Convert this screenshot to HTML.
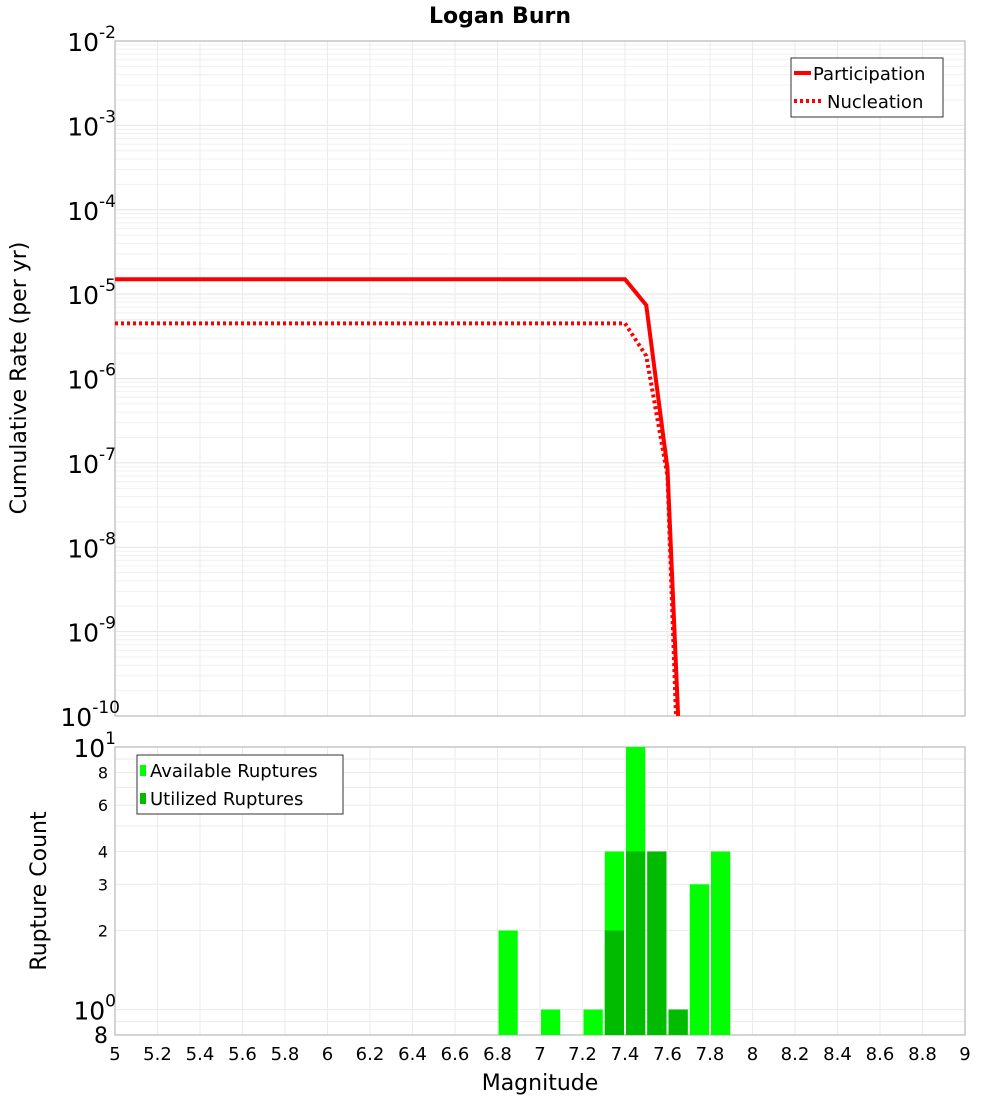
<!DOCTYPE html>
<html><head><meta charset="utf-8"><style>
body{margin:0;background:#fff;}
svg{font-family:"DejaVu Sans","Liberation Sans",sans-serif;display:block;}
</style></head><body>
<svg id="c" width="1000" height="1100" xmlns="http://www.w3.org/2000/svg">
<text x="500" y="23" text-anchor="middle" font-size="22" font-weight="bold">Logan Burn</text>
<g id="g"></g>
</svg>
<script>
const partMag=[5,7.4,7.5,7.6,7.65];
const partRate=[1.5e-5,1.5e-5,7.4e-6,8.5e-8,1e-10];
const nuclMag=[5,7.4,7.5,7.6,7.64];
const nuclRate=[4.5e-6,4.5e-6,1.85e-6,7e-8,1e-10];
const binMag=[6.85,7.05,7.25,7.35,7.45,7.55,7.65,7.75,7.85];
const availCount=[2,1,1,4,10,4,1,3,4];
const utilMag=[7.35,7.45,7.55,7.65];
const utilCount=[2,4,4,1];
const xTicks=[5,5.2,5.4,5.6,5.8,6,6.2,6.4,6.6,6.8,7,7.2,7.4,7.6,7.8,8,8.2,8.4,8.6,8.8,9];
const NS="http://www.w3.org/2000/svg";
const g=document.getElementById('g');
const L=115,R=965,T1=41,B1=716,T2=747,B2=1035;
const x=m=>L+(m-5)/4*(R-L);
const y1=v=>T1+(-2-Math.log10(v))/8*(B1-T1);
const y2=v=>T2+(1-Math.log10(v))/(1-Math.log10(0.8))*(B2-T2);
function mk(t,a,p){const e=document.createElementNS(NS,t);for(const k in a)e.setAttribute(k,a[k]);(p||g).appendChild(e);return e;}
for(let d=-10;d<-2;d++)for(let k=1;k<10;k++){const v=k*Math.pow(10,d);const yy=y1(v);
const l=mk('line',{x1:L,x2:R,y1:yy,y2:yy,stroke:k==1?'#e4e4e4':'#f0f0f0','stroke-width':1});
}
for(const t of xTicks){const l=mk('line',{x1:x(t),x2:x(t),y1:T1,y2:B1,stroke:'#ebebeb'});

const l2=mk('line',{x1:x(t),x2:x(t),y1:T2,y2:B2,stroke:'#ebebeb'});
}
for(const v of [0.9,1,2,3,4,5,6,7,8,9]){const l=mk('line',{x1:L,x2:R,y1:y2(v),y2:y2(v),stroke:'#ebebeb'});
}
let f=mk('rect',{x:L,y:T1,width:R-L,height:B1-T1,fill:'none',stroke:'#aaa'});

f=mk('rect',{x:L,y:T2,width:R-L,height:B2-T2,fill:'none',stroke:'#aaa'});

for(let d=-10;d<=-2;d++){const t=mk('text',{x:d==-10?120:116,y:y1(Math.pow(10,d))+10,'text-anchor':'end','font-size':25});
t.innerHTML='10<tspan dy="-13" font-size="17">'+d+'</tspan>';
}
function line(ms,rs,dash,name){const pts=ms.map((m,i)=>x(m)+','+y1(rs[i])).join(' ');
const p=mk('polyline',{points:pts,fill:'none',stroke:'#f00','stroke-width':4,'stroke-dasharray':dash||'none'});
}
line(partMag,partRate,null,'participation-line');
line(nuclMag,nuclRate,'3,3','nucleation-line');
const bw=(x(0.1)-x(0));
binMag.forEach((m,i)=>{const r=mk('rect',{x:x(m)-bw/2+1,y:y2(availCount[i]),width:bw-2,height:B2-y2(availCount[i]),fill:'#00ff00'});
});
utilMag.forEach((m,i)=>{const r=mk('rect',{x:x(m)-bw/2+1,y:y2(utilCount[i]),width:bw-2,height:B2-y2(utilCount[i]),fill:'#00bb00'});
});
[[10,'10','1'],[1,'10','0']].forEach(a=>{const t=mk('text',{x:116,y:y2(a[0])+10,'text-anchor':'end','font-size':25});
t.innerHTML=a[1]+'<tspan dy="-13" font-size="17">'+a[2]+'</tspan>';
});
[[8,'8'],[6,'6'],[4,'4'],[3,'3'],[2,'2']].forEach(a=>{const t=mk('text',{x:108,y:y2(a[0])+6,'text-anchor':'end','font-size':16});
t.textContent=a[1];});
let t8=mk('text',{x:108,y:1043,'text-anchor':'end','font-size':22});t8.textContent='8';

for(const t of xTicks){const e=mk('text',{x:x(t),y:1060,'text-anchor':'middle','font-size':18});
e.textContent=String(t);}
</script>
<svg style="position:absolute;left:0;top:0" width="1000" height="1100" xmlns="http://www.w3.org/2000/svg" font-family="DejaVu Sans, Liberation Sans, sans-serif">
<text x="540" y="1090" text-anchor="middle" font-size="22">Magnitude</text>
<text transform="translate(26,378) rotate(-90)" text-anchor="middle" font-size="22">Cumulative Rate (per yr)</text>
<text transform="translate(46,891) rotate(-90)" text-anchor="middle" font-size="22">Rupture Count</text>
<g>
<rect x="791" y="58" width="152" height="59" fill="#fff" stroke="#333"/>
<line x1="794" y1="73" x2="811" y2="73" stroke="#f00" stroke-width="4"/>
<text x="813" y="80" font-size="18">Participation</text>
<line x1="794" y1="101" x2="822" y2="101" stroke="#f00" stroke-width="4" stroke-dasharray="3,3"/>
<text x="827" y="108" font-size="18">Nucleation</text>
</g>
<g>
<rect x="137" y="755" width="206" height="59" fill="#fff" stroke="#333"/>
<rect x="140" y="765" width="6" height="11" fill="#00ff00"/>
<text x="150" y="777" font-size="18">Available Ruptures</text>
<rect x="140" y="793" width="6" height="11" fill="#00bb00"/>
<text x="150" y="805" font-size="18">Utilized Ruptures</text>
</g>
</svg>
</body></html>
